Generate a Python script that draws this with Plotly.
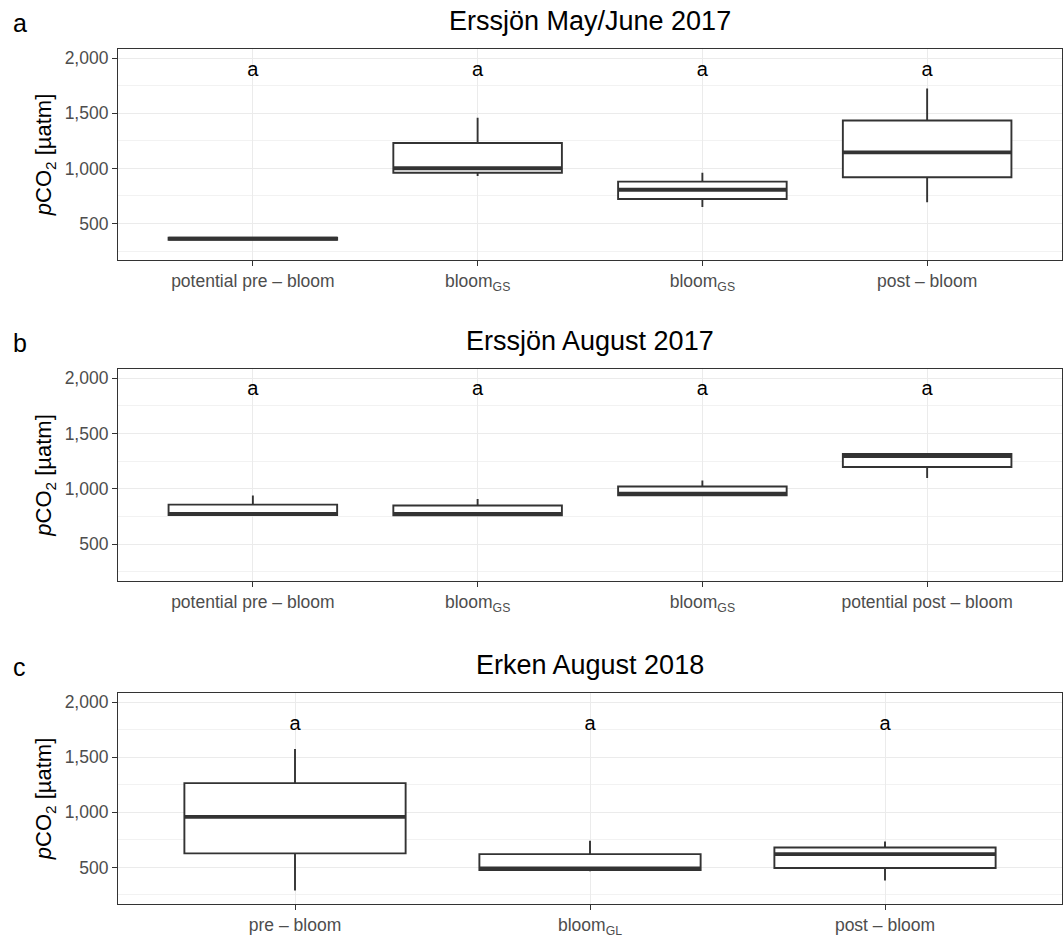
import plotly.graph_objects as go

# ---------------- data ----------------
panel_titles = ["Erssjön May/June 2017", "Erssjön August 2017", "Erken August 2018"]
panel_tags = ["a", "b", "c"]

cats_a = ["potential pre – bloom", "bloom<sub>GS</sub>", "bloom<sub>GS</sub>", "post – bloom"]
cats_b = ["potential pre – bloom", "bloom<sub>GS</sub>", "bloom<sub>GS</sub>", "potential post – bloom"]
cats_c = ["pre – bloom", "bloom<sub>GL</sub>", "post – bloom"]

lower_a = [345, 932, 650, 692]
q1_a = [352, 961, 722, 920]
median_a = [362, 1001, 806, 1145]
q3_a = [372, 1231, 880, 1435]
upper_a = [378, 1460, 961, 1726]

lower_b = [760, 760, 940, 1099]
q1_b = [765, 762, 942, 1198]
median_b = [775, 775, 958, 1296]
q3_b = [858, 850, 1022, 1316]
upper_b = [940, 910, 1075, 1318]

lower_c = [290, 465, 381]
q1_c = [627, 477, 494]
median_c = [958, 490, 621]
q3_c = [1265, 621, 681]
upper_c = [1575, 742, 736]

letters_a = ["a", "a", "a", "a"]
letters_b = ["a", "a", "a", "a"]
letters_c = ["a", "a", "a"]
letter_y = [1886, 1890, 1790]

y_ticks = [500, 1000, 1500, 2000]
y_minor = [250, 750, 1250, 1750]
y_range = [167, 2085]

panels = [
    (cats_a, lower_a, q1_a, median_a, q3_a, upper_a, letters_a),
    (cats_b, lower_b, q1_b, median_b, q3_b, upper_b, letters_b),
    (cats_c, lower_c, q1_c, median_c, q3_c, upper_c, letters_c),
]

# ---------------- layout geometry (pixels) ----------------
W, H = 1064, 938
LEFT, RIGHT = 118, 1062
TOPS = [49, 370, 695]
BOTS = [261, 583, 907]
BOX_W = 0.75

FONT = "Liberation Sans, Arial, Helvetica, sans-serif"
DARK = "#333333"
TICKC = "#4d4d4d"
GRID = "#ebebeb"

fig = go.Figure()
layout = dict(
    width=W, height=H, margin=dict(l=0, r=0, t=0, b=0),
    paper_bgcolor="white", plot_bgcolor="white",
    showlegend=False, font=dict(family=FONT, color="black"),
    annotations=[],
)

for i, (cats, lo, q1, med, q3, hi, letters) in enumerate(panels):
    n = len(cats)
    xs = list(range(1, n + 1))
    suf = "" if i == 0 else str(i + 1)
    xa, ya = "x" + suf, "y" + suf
    fig.add_trace(go.Box(
        x=xs, lowerfence=lo, q1=q1, median=med, q3=q3, upperfence=hi,
        xaxis=xa, yaxis=ya, fillcolor="white", width=BOX_W,
        line=dict(color=DARK, width=1.9), whiskerwidth=0,
        boxpoints=False, hoverinfo="skip",
    ))
    # thick median lines (ggplot fatten)
    mx, my = [], []
    for xv, m in zip(xs, med):
        mx += [xv - BOX_W / 2, xv + BOX_W / 2, None]
        my += [m, m, None]
    fig.add_trace(go.Scatter(x=mx, y=my, mode="lines", xaxis=xa, yaxis=ya,
                             line=dict(color=DARK, width=3.8), hoverinfo="skip"))
    # significance letters
    fig.add_trace(go.Scatter(x=xs, y=[letter_y[i]] * n, mode="text", text=letters,
                             textfont=dict(size=20, color="black", family=FONT),
                             xaxis=xa, yaxis=ya, hoverinfo="skip"))

    y0 = 1 - BOTS[i] / H
    y1 = 1 - TOPS[i] / H
    layout["xaxis" + suf] = dict(
        domain=[LEFT / W, RIGHT / W], anchor=ya, range=[0.4, n + 0.6],
        tickvals=xs, ticktext=cats, tickfont=dict(size=17.5, color=TICKC, family=FONT),
        ticks="outside", ticklen=5, tickcolor=DARK, tickwidth=1.3,
        showgrid=True, gridcolor=GRID, gridwidth=1.2, zeroline=False,
        showline=True, linecolor=DARK, linewidth=1.1, mirror=True, fixedrange=True,
    )
    layout["yaxis" + suf] = dict(
        domain=[y0, y1], anchor=xa, range=y_range,
        tickvals=y_ticks, tickformat=",", tickfont=dict(size=17.5, color=TICKC, family=FONT),
        ticks="outside", ticklen=5, tickcolor=DARK, tickwidth=1.3,
        showgrid=True, gridcolor=GRID, gridwidth=1.2, zeroline=False,
        minor=dict(tickvals=y_minor, showgrid=True, gridcolor="#f2f2f2", gridwidth=0.7, ticks=""),
        showline=True, linecolor=DARK, linewidth=1.1, mirror=True, fixedrange=True,
        title=dict(text="<i>p</i>CO<sub>2</sub> [µatm]", font=dict(size=22, color="black", family=FONT), standoff=6),
    )
    layout["annotations"].append(dict(
        text=panel_titles[i], xref="paper", yref="paper",
        x=(LEFT + RIGHT) / 2 / W, y=1 - (TOPS[i] - 28) / H, xanchor="center", yanchor="middle",
        showarrow=False, font=dict(size=27, color="black", family=FONT),
    ))
    layout["annotations"].append(dict(
        text=panel_tags[i], xref="paper", yref="paper",
        x=11 / W, y=1 - (TOPS[i] - 26) / H, xanchor="left", yanchor="middle",
        showarrow=False, font=dict(size=25, color="black", family=FONT),
    ))

fig.update_layout(**layout)
fig.write_html(
    "out.html",
    config={"displayModeBar": False},
    post_script="document.body.style.margin='0';document.body.style.overflow='hidden';",
)
